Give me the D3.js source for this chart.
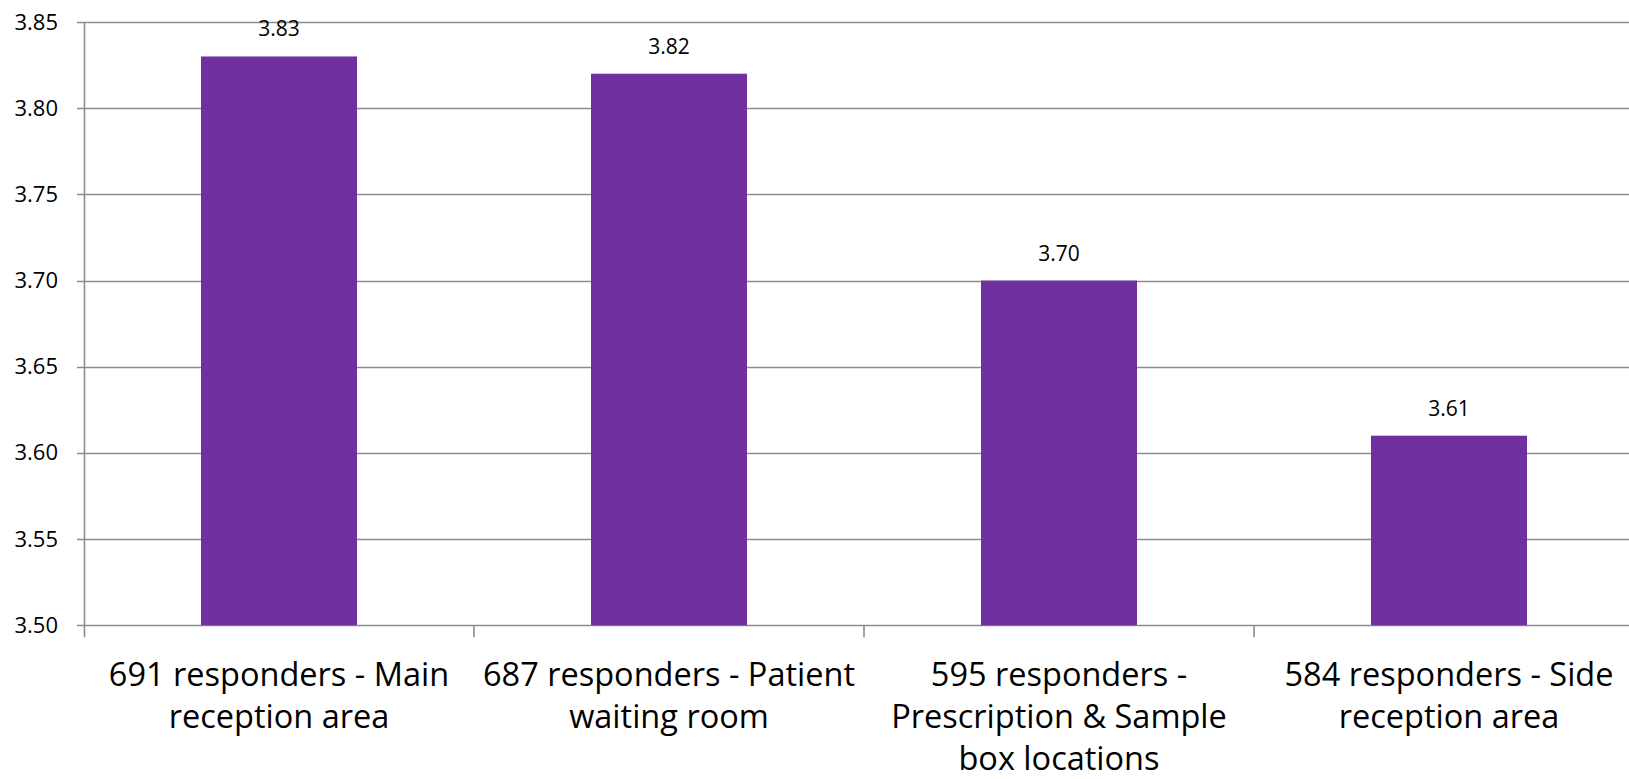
<!DOCTYPE html>
<html><head><meta charset="utf-8">
<script src="https://cdn.jsdelivr.net/npm/d3@7"></script>
<style>
html,body{margin:0;padding:0;background:#fff;overflow:hidden;}
svg{display:block;font-family:"Open Sans",sans-serif;}
</style></head>
<body>
<svg id="c" width="1629" height="779"></svg>
<script>
const categories = [
  "691 responders - Main\nreception area",
  "687 responders - Patient\nwaiting room",
  "595 responders -\nPrescription & Sample\nbox locations",
  "584 responders - Side\nreception area"
];
const values = [3.83, 3.82, 3.70, 3.61];
const yTicks = [3.50, 3.55, 3.60, 3.65, 3.70, 3.75, 3.80, 3.85];

(function(){
const svg = d3.select("#c");
const pLeft = 84, pRight = 1644, pTop = 22, pBottom = 625.3;

const x = d3.scaleBand().domain(categories).range([pLeft, pRight]).paddingInner(0.6).paddingOuter(0.3);
const y = d3.scaleLinear().domain([3.5, 3.85]).range([pBottom, pTop]);
const step = x.step();

svg.append("g").selectAll("line").data(yTicks).join("line")
  .attr("x1", pLeft - 7).attr("x2", 1629)
  .attr("y1", d => Math.round(y(d)) + 0.5).attr("y2", d => Math.round(y(d)) + 0.5)
  .attr("stroke", "#8c8c8c").attr("stroke-width", 1.6);

svg.append("line").attr("x1", pLeft + 0.5).attr("x2", pLeft + 0.5)
  .attr("y1", pTop).attr("y2", pBottom + 12)
  .attr("stroke", "#8c8c8c").attr("stroke-width", 1.6);

const bounds = categories.map((c, i) => pLeft + step * (i + 1));
svg.append("g").selectAll("line").data(bounds).join("line")
  .attr("x1", d => d).attr("x2", d => d)
  .attr("y1", pBottom).attr("y2", pBottom + 12)
  .attr("stroke", "#8c8c8c").attr("stroke-width", 1.6);

svg.append("g").selectAll("text").data(yTicks).join("text")
  .attr("x", 58).attr("y", d => y(d) + 7.5)
  .attr("text-anchor", "end").attr("font-size", 22).attr("fill", "#000")
  .text(d => d3.format(".2f")(d));

svg.append("g").selectAll("rect").data(values).join("rect")
  .attr("x", (d, i) => x(categories[i]))
  .attr("width", x.bandwidth())
  .attr("y", d => y(d))
  .attr("height", d => y(3.5) - y(d))
  .attr("fill", "#7030A0");

svg.append("g").selectAll("text").data(values).join("text")
  .attr("x", (d, i) => x(categories[i]) + x.bandwidth() / 2)
  .attr("y", d => y(d) - 20)
  .attr("text-anchor", "middle").attr("font-size", 21).attr("fill", "#000")
  .text(d => d3.format(".2f")(d));

const cl = svg.append("g").selectAll("text").data(categories).join("text")
  .attr("text-anchor", "middle").attr("font-size", 32.5).attr("fill", "#000")
  .attr("x", d => x(d) + x.bandwidth() / 2)
  .attr("y", 686);
cl.each(function(d) {
  const t = d3.select(this);
  const cx = +t.attr("x");
  d.split("\n").forEach((line, j) => {
    t.append("tspan").attr("x", cx).attr("y", 686 + j * 42).text(line);
  });
});
})();
</script>
</body></html>
